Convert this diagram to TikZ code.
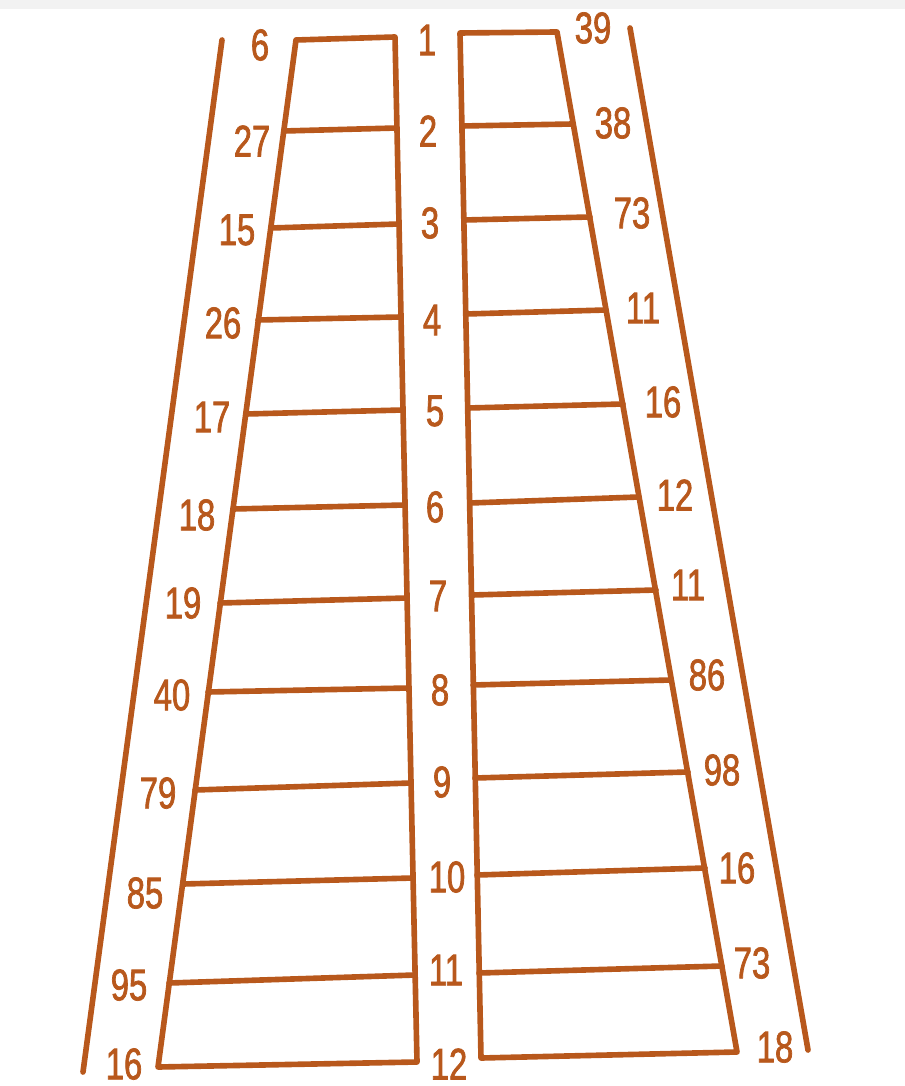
\documentclass[tikz,border=0pt]{standalone}
\usepackage{fontspec}
\newfontfamily\numfont[FakeStretch=0.74,FakeBold=1.6]{Liberation Sans}
\definecolor{rust}{RGB}{184,88,28}
\tikzset{
	rail/.style={draw=rust,line width=1.6pt,line join=round,line cap=round},
	num/.style={text=rust,inner sep=0pt,font=\numfont\fontsize{12.6}{12.6}\selectfont}
}

\begin{document}
\begin{tikzpicture}[yscale=-1]
	\pgfmathsetmacro{\ul}{0.01};
	\useasboundingbox (0,0) rectangle (905*\ul,1086*\ul);
	\fill[gray!10] (0,0) rectangle (905*\ul,9*\ul);
\begin{scope}
	% left ladder
	\draw[rail] (296*\ul,40*\ul)--(395*\ul,37*\ul)--(417*\ul,1062*\ul)--(158*\ul,1067*\ul)--cycle;
	\draw[rail] (284*\ul,131*\ul)--(397*\ul,128*\ul);
	\draw[rail] (271*\ul,228*\ul)--(399*\ul,224*\ul);
	\draw[rail] (258*\ul,320*\ul)--(401*\ul,317*\ul);
	\draw[rail] (246*\ul,414*\ul)--(403*\ul,410*\ul);
	\draw[rail] (233*\ul,509*\ul)--(405*\ul,505*\ul);
	\draw[rail] (220*\ul,603*\ul)--(407*\ul,598*\ul);
	\draw[rail] (208*\ul,692*\ul)--(409*\ul,688*\ul);
	\draw[rail] (195*\ul,790*\ul)--(411*\ul,783*\ul);
	\draw[rail] (183*\ul,884*\ul)--(413*\ul,878*\ul);
	\draw[rail] (169*\ul,983*\ul)--(415*\ul,975*\ul);
	\draw[rail] (222*\ul,40*\ul)--(83*\ul,1072*\ul);
	\node[num] (lft1) at (260*\ul,45*\ul) {6};
	\node[num] (lft2) at (252*\ul,141*\ul) {27};
	\node[num] (lft3) at (237*\ul,230*\ul) {15};
	\node[num] (lft4) at (223*\ul,323*\ul) {26};
	\node[num] (lft5) at (212*\ul,417*\ul) {17};
	\node[num] (lft6) at (197*\ul,515*\ul) {18};
	\node[num] (lft7) at (183*\ul,603*\ul) {19};
	\node[num] (lft8) at (172*\ul,695*\ul) {40};
	\node[num] (lft9) at (158*\ul,793*\ul) {79};
	\node[num] (lft10) at (145*\ul,893*\ul) {85};
	\node[num] (lft11) at (129*\ul,985*\ul) {95};
	\node[num] (lft12) at (124*\ul,1064*\ul) {16};
	\node[num] (mid1) at (427*\ul,40*\ul) {1};
	\node[num] (mid2) at (428*\ul,131*\ul) {2};
	\node[num] (mid3) at (430*\ul,223*\ul) {3};
	\node[num] (mid4) at (432*\ul,320*\ul) {4};
	\node[num] (mid5) at (435*\ul,411*\ul) {5};
	\node[num] (mid6) at (435*\ul,507*\ul) {6};
	\node[num] (mid7) at (438*\ul,596*\ul) {7};
	\node[num] (mid8) at (440*\ul,690*\ul) {8};
	\node[num] (mid9) at (442*\ul,782*\ul) {9};
	\node[num] (mid10) at (447*\ul,877*\ul) {10};
	\node[num] (mid11) at (446*\ul,970*\ul) {11};
	\node[num] (mid12) at (449*\ul,1064*\ul) {12};
\end{scope}
\begin{scope}
	% right ladder
	\draw[rail] (460*\ul,33*\ul)--(557*\ul,32*\ul)--(737*\ul,1052*\ul)--(481*\ul,1058*\ul)--cycle;
	\draw[rail] (462*\ul,126*\ul)--(573*\ul,124*\ul);
	\draw[rail] (464*\ul,220*\ul)--(590*\ul,217*\ul);
	\draw[rail] (466*\ul,314*\ul)--(606*\ul,310*\ul);
	\draw[rail] (468*\ul,408*\ul)--(623*\ul,404*\ul);
	\draw[rail] (470*\ul,503*\ul)--(639*\ul,497*\ul);
	\draw[rail] (472*\ul,595*\ul)--(656*\ul,590*\ul);
	\draw[rail] (473*\ul,685*\ul)--(671*\ul,680*\ul);
	\draw[rail] (475*\ul,778*\ul)--(688*\ul,772*\ul);
	\draw[rail] (477*\ul,875*\ul)--(705*\ul,868*\ul);
	\draw[rail] (479*\ul,973*\ul)--(722*\ul,966*\ul);
	\draw[rail] (630*\ul,28*\ul)--(808*\ul,1050*\ul);
	\node[num] (rgt1) at (593*\ul,28*\ul) {39};
	\node[num] (rgt2) at (613*\ul,123*\ul) {38};
	\node[num] (rgt3) at (632*\ul,213*\ul) {73};
	\node[num] (rgt4) at (643*\ul,308*\ul) {11};
	\node[num] (rgt5) at (663*\ul,402*\ul) {16};
	\node[num] (rgt6) at (675*\ul,495*\ul) {12};
	\node[num] (rgt7) at (688*\ul,585*\ul) {11};
	\node[num] (rgt8) at (707*\ul,675*\ul) {86};
	\node[num] (rgt9) at (722*\ul,770*\ul) {98};
	\node[num] (rgt10) at (737*\ul,868*\ul) {16};
	\node[num] (rgt11) at (752*\ul,963*\ul) {73};
	\node[num] (rgt12) at (775*\ul,1047*\ul) {18};
\end{scope}
\end{tikzpicture}
\end{document}
